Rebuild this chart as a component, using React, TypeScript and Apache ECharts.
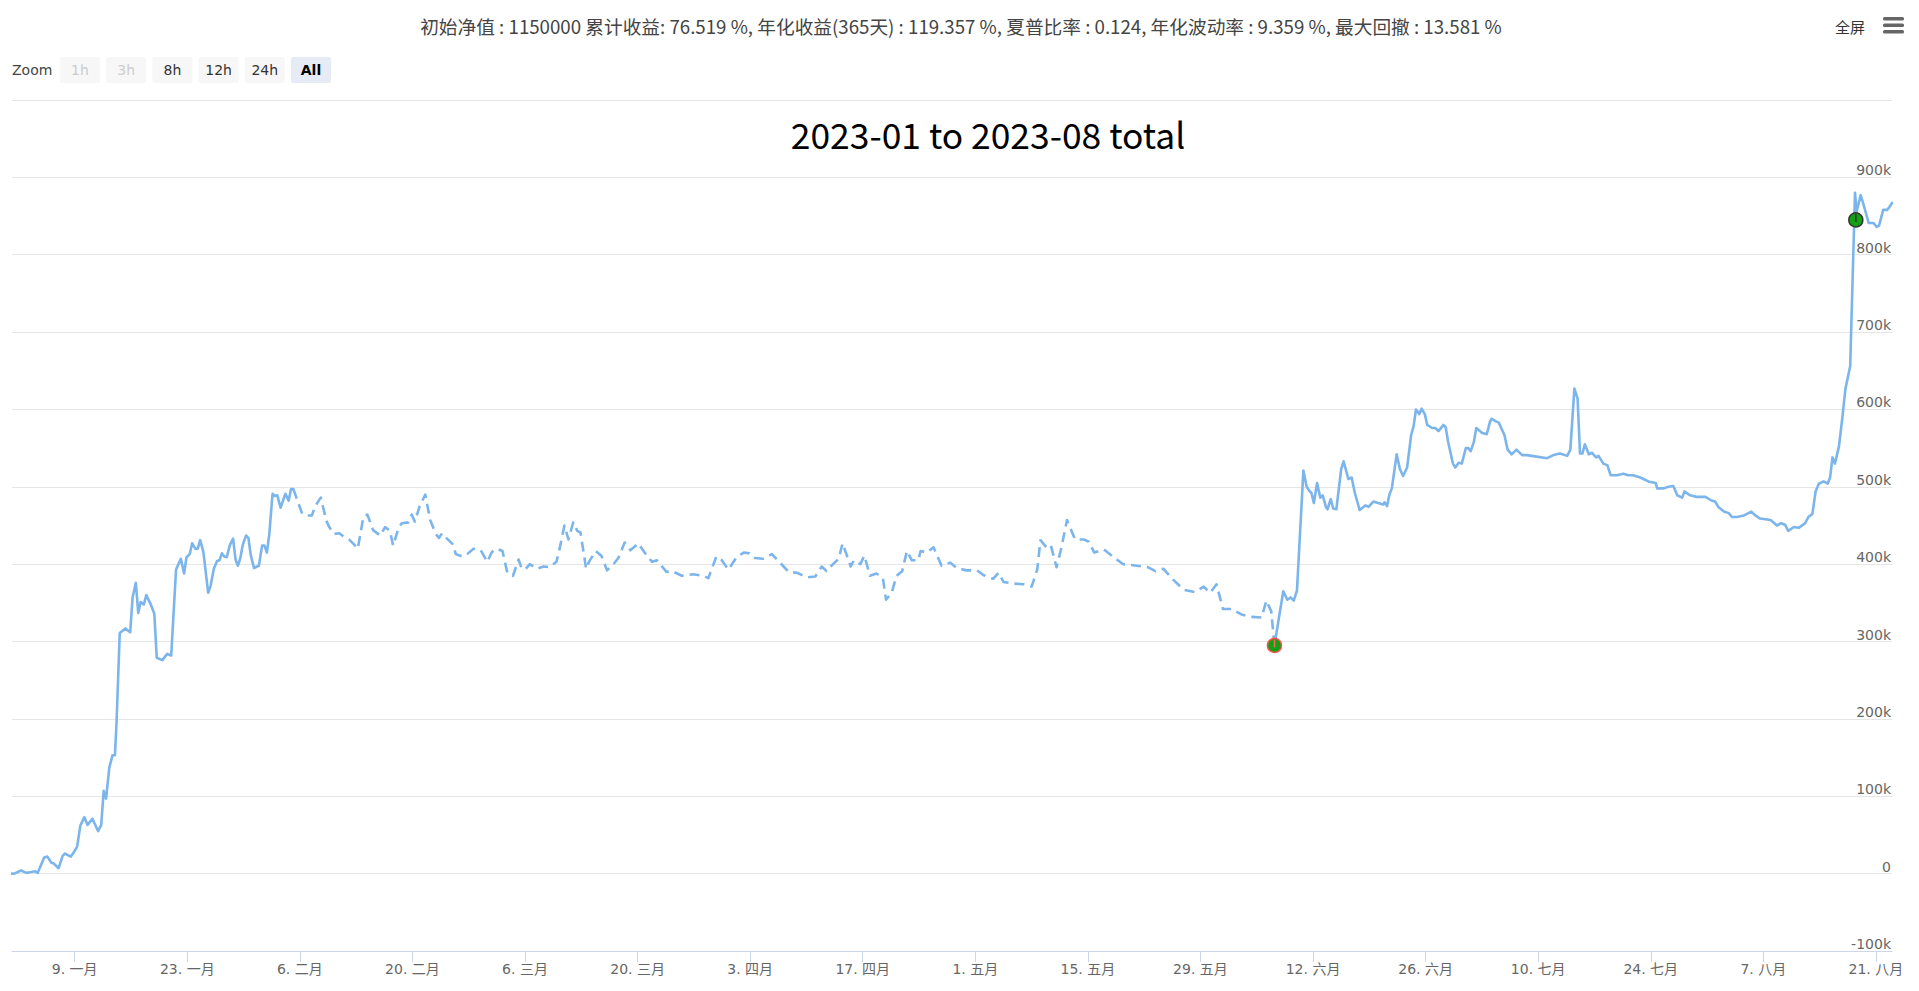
import React, { useEffect, useRef } from "react";
import * as echarts from "echarts";

// days since 2023-01-01 (UTC) and net value change in thousands
const days = [
  0.2, 0.5, 1.3, 2.0, 2.6, 3.1, 3.4, 3.6, 4.2, 4.6, 5.1, 5.4, 6.0, 6.5, 6.8, 7.5, 7.8, 8.3, 8.7, 9.2,
  9.6, 10.2, 10.9, 11.3, 11.6, 11.9, 12.3, 12.7, 13.0, 13.2, 13.6, 14.3, 14.9, 15.2, 15.6, 15.9, 16.2, 16.6, 16.9, 17.5,
  17.9, 18.2, 18.9, 19.5, 20.0, 20.6, 21.2, 21.6, 21.9, 22.3, 22.6, 23.0, 23.3, 23.6, 24.0, 24.6, 24.9, 25.3, 25.7, 26.0,
  26.3, 26.6, 26.9, 27.3, 27.7, 28.0, 28.3, 28.6, 28.9, 29.3, 29.6, 29.9, 30.3, 30.9, 31.3, 31.6, 31.9, 32.2, 32.6, 32.9,
  33.2, 33.6, 33.9, 34.2, 34.6, 34.9, 35.2,
  35.7, 36.3, 36.9, 37.5, 37.9, 38.6, 39.3, 39.6, 40.2, 40.9, 41.4, 42.1, 42.7, 43.2, 43.9, 44.4, 45.1, 46.0, 46.6, 47.2,
  47.6, 48.3, 48.7, 49.5, 49.9, 50.3, 50.9, 51.6, 52.2, 52.9, 53.3, 53.7, 54.3, 55.0, 55.4, 56.2, 56.8, 57.6, 58.5, 59.3,
  59.9, 60.5, 61.2, 61.8, 62.5, 63.2, 63.6, 64.1, 64.6, 65.5, 66.3, 67.1, 67.9, 68.2, 68.9, 69.4, 70.0, 70.5, 70.9, 71.6,
  72.0, 72.8, 73.5, 74.2, 75.0, 75.6, 76.4, 77.1, 78.1, 78.8, 79.8, 80.4, 81.6, 82.3, 83.5, 84.9, 86.2, 86.8, 87.8, 88.4,
  89.3, 90.3, 91.2, 91.9, 92.6, 93.6, 94.7, 95.7, 96.8, 97.8, 99.0, 100.1, 100.9, 101.5, 102.1, 103.0, 103.5, 104.2, 104.5, 104.9,
  105.7, 106.2, 106.9, 107.7, 108.5, 108.9, 109.6, 110.2, 110.9, 111.5, 112.1, 112.9, 113.2, 114.0, 114.8, 115.8, 116.9, 117.7, 118.9, 120.2,
  121.0, 122.2, 122.9, 123.5, 124.7, 126.0, 127.0, 127.7, 128.1, 128.9, 129.4, 130.1, 130.7, 131.4, 132.4, 133.5, 134.1, 134.8, 136.0, 137.2,
  138.4, 140.1, 141.5, 142.4, 143.4, 144.6, 145.9, 147.3, 148.4, 149.2, 150.0, 150.8, 151.9, 153.1, 154.2, 155.6, 156.2, 156.8, 157.2,
  158.3, 158.8, 159.2, 159.6, 160.0, 160.8, 161.2, 161.6, 161.8, 162.1, 162.5, 162.9, 163.2, 163.6, 163.8, 164.2, 164.5, 164.9, 165.5, 165.8,
  166.4, 166.8, 167.2, 167.8, 168.5, 168.9, 169.5, 170.1, 170.7, 170.9, 171.2, 171.5, 171.8, 172.4, 172.8, 173.2, 173.7, 174.2, 174.5, 174.8,
  175.2, 175.5, 175.9, 176.2, 176.8, 177.2, 177.6, 178.2, 178.5, 178.8, 179.4, 179.7, 180.1, 180.5, 181.0, 181.3, 181.6, 182.0, 182.3, 183.0,
  183.6, 184.0, 184.2, 184.7, 185.1, 185.4, 185.8, 186.2, 186.7, 187.3, 188.0, 188.6, 189.8, 191.1, 191.9, 192.7, 193.6, 194.0, 194.5, 194.9,
  195.2, 195.5, 195.8, 196.3, 196.7, 197.2, 197.5, 198.1, 198.6, 199.0, 199.8, 200.6, 201.2, 201.8, 202.7, 203.7, 204.6, 204.8, 205.6, 206.2,
  206.8, 207.3, 207.9, 208.2, 208.9, 209.7, 210.8, 211.6, 212.0, 212.4, 213.1, 213.7, 214.1, 214.7, 215.6, 216.5, 217.0, 217.6, 218.9, 219.7,
  220.2, 220.7, 221.1, 221.8, 222.4, 223.2, 223.6, 224.1, 224.5, 224.9, 225.5, 226.0, 226.3, 226.6, 226.9, 227.4, 227.8, 228.2, 228.8, 229.4,
  229.6, 229.8, 230.1, 230.4, 231.1, 231.7, 232.1, 232.4, 232.9, 233.4, 233.7, 234.0,
];

const values = [
  0, 0, 4, 1, 2, 3, 1, 6, 21, 22, 14, 13, 7, 23, 26, 22, 26, 35, 62, 73,
  63, 71, 55, 63, 107, 97, 137, 153, 153, 195, 311, 317, 312, 357, 376, 337, 351, 348, 360, 347,
  336, 279, 276, 284, 282, 393, 407, 388, 409, 413, 427, 420, 420, 431, 416, 363, 372, 394, 404, 405,
  414, 410, 409, 425, 433, 406, 398, 408, 425, 437, 434, 411, 395, 398, 424, 424, 415, 439, 491, 488,
  489, 473, 482, 491, 482, 497, 497,
  482, 465, 463, 463, 475, 486, 456, 449, 439, 440, 436, 432, 426, 420, 461, 464, 444, 437, 448, 443,
  424, 448, 453, 454, 464, 455, 475, 490, 457, 439, 434, 440, 433, 426, 413, 410, 413, 420, 418, 403,
  416, 420, 417, 389, 385, 406, 394, 394, 400, 394, 397, 396, 403, 415, 450, 432, 454, 443, 441, 394,
  404, 417, 411, 392, 400, 408, 428, 418, 427, 416, 403, 405, 390, 391, 385, 387, 385, 382, 410, 406,
  393, 409, 415, 414, 408, 407, 413, 402, 390, 389, 383, 384, 397, 391, 398, 407, 427, 406, 397, 405,
  400, 411, 385, 388, 382, 354, 363, 385, 391, 417, 405, 405, 417, 415, 422, 398, 402, 395, 392, 392,
  386, 381, 389, 377, 375, 374, 371, 393, 431, 421, 424, 396, 421, 457, 432, 432, 429, 415, 419, 409,
  400, 398, 396, 391, 394, 380, 367, 364, 371, 363, 374, 342, 342, 335, 332, 331, 353, 339, 295,
  365, 354, 357, 353, 366, 521, 500, 494, 492, 479, 505, 486, 489, 474, 471, 484, 472, 471, 523, 533,
  510, 512, 492, 470, 476, 474, 481, 479, 477, 480, 475, 490, 498, 542, 523, 514, 525, 567, 578, 600,
  594, 601, 594, 580, 576, 576, 572, 580, 577, 558, 530, 525, 531, 530, 550, 550, 546, 558, 576, 570,
  568, 584, 588, 585, 583, 576, 567, 548, 542, 548, 541, 541, 539, 537, 541, 543, 540, 548, 627, 614,
  543, 543, 555, 542, 544, 538, 540, 530, 528, 515, 515, 517, 515, 515, 512, 507, 505, 498, 498, 500,
  501, 489, 486, 494, 489, 487, 487, 482, 481, 474, 468, 466, 461, 461, 463, 468, 463, 459, 457, 450,
  453, 451, 443, 448, 447, 453, 461, 465, 494, 504, 507, 504, 512, 538, 530, 552, 587, 626, 656, 880,
  856, 864, 877, 867, 841, 841, 836, 838, 858, 858, 862, 867,
];

// drawdown period (dashed) between peak and trough
const drawdownStartDay = 35.2;
const drawdownEndDay = 157.2;

// markers: trough and latest high
const troughMarker = [157.2, 295];
const peakMarker = [229.5, 845];

const tickDays = [8, 22, 36, 50, 64, 78, 92, 106, 120, 134, 148, 162, 176, 190, 204, 218, 232];
const tickLabels = [
  "9. 一月", "23. 一月", "6. 二月", "20. 二月", "6. 三月", "20. 三月", "3. 四月", "17. 四月",
  "1. 五月", "15. 五月", "29. 五月", "12. 六月", "26. 六月", "10. 七月", "24. 七月", "7. 八月", "21. 八月",
];

const yMin = -100;
const yMax = 1000;
const yStep = 100;

const headerText =
  "初始净值 : 1150000 累计收益: 76.519 %, 年化收益(365天) : 119.357 %, 夏普比率 : 0.124, 年化波动率 : 9.359 %, 最大回撤 : 13.581 %";
const titleText = "2023-01 to 2023-08 total";
const zoomButtons = ["1h", "3h", "8h", "12h", "24h", "All"];
const disabledButtons = ["1h", "3h"];
const selectedButton = "All";

const LINE = "#7cb5ec";
const AXIS_FONT = "'DejaVu Sans', 'Noto Sans CJK SC', sans-serif";
const CJK_FONT = "'Noto Sans CJK SC', 'Noto Sans', sans-serif";

export default function App() {
  const ref = useRef<HTMLDivElement>(null);

  useEffect(() => {
    if (!ref.current) return;
    const chart = echarts.init(ref.current, null, { renderer: "svg" });
    const pts = days.map((d, i) => [d, values[i]]);
    const seg = (a: number, b: number) => pts.filter((p) => p[0] >= a && p[0] <= b);

    const lineBase = {
      type: "line",
      showSymbol: false,
      symbol: "none",
      silent: true,
      z: 3,
    };

    const buttonEls: any[] = [];
    zoomButtons.forEach((b, i) => {
      const x = 60 + i * 46.2;
      const disabled = disabledButtons.includes(b);
      const selected = b === selectedButton;
      buttonEls.push({
        type: "rect",
        shape: { x, y: 57, width: 40, height: 26, r: 2 },
        style: { fill: selected ? "#e6ebf5" : "#f7f7f7" },
      });
      buttonEls.push({
        type: "text",
        x: x + 20,
        y: 70,
        style: {
          text: b,
          fontSize: 14,
          fontFamily: AXIS_FONT,
          fontWeight: selected ? "bold" : "normal",
          fill: disabled ? "#cccccc" : selected ? "#000000" : "#333333",
          align: "center",
          verticalAlign: "middle",
        },
      });
    });

    chart.setOption({
      animation: false,
      backgroundColor: "#ffffff",
      grid: { left: 12, right: 27, top: 100, bottom: 40, containLabel: false, outerBoundsMode: "none" },
      xAxis: {
        type: "value",
        min: 0.2,
        max: 234,
        splitLine: { show: false },
        axisLine: { show: true, onZero: false, lineStyle: { color: "#ccd6eb", width: 1 } },
        axisTick: { show: true, customValues: tickDays, length: 11, lineStyle: { color: "#ccd6eb" } },
        axisLabel: {
          customValues: tickDays,
          formatter: (v: number) => {
            const i = tickDays.indexOf(Math.round(v));
            return i >= 0 ? tickLabels[i] : "";
          },
          color: "#666666",
          fontSize: 14,
          fontFamily: AXIS_FONT,
          margin: 11,
        },
      },
      yAxis: {
        type: "value",
        position: "right",
        min: yMin,
        max: yMax,
        interval: yStep,
        axisLine: { show: false },
        axisTick: { show: false },
        splitLine: { show: true, lineStyle: { color: "#e6e6e6", width: 1 } },
        axisLabel: {
          inside: true,
          showMaxLabel: false,
          align: "right",
          verticalAlign: "bottom",
          margin: 1,
          padding: [0, 0, 0, 0],
          color: "#666666",
          fontSize: 14,
          fontFamily: AXIS_FONT,
          formatter: (v: number) => (v === 0 ? "0" : `${v}k`),
        },
      },
      series: [
        { ...lineBase, data: seg(-1, drawdownStartDay), lineStyle: { color: LINE, width: 2.6, join: "round", cap: "round" } },
        {
          ...lineBase,
          data: seg(drawdownStartDay, drawdownEndDay),
          lineStyle: { color: LINE, width: 2.6, type: [10, 6], join: "round" },
        },
        { ...lineBase, data: seg(drawdownEndDay, 999), lineStyle: { color: LINE, width: 2.6, join: "round", cap: "round" } },
        {
          type: "scatter",
          silent: true,
          z: 5,
          data: [troughMarker],
          symbol: "circle",
          symbolSize: 14,
          itemStyle: { color: "#13a113", borderColor: "#ff5050", borderWidth: 1.5, opacity: 1 },
        },
        {
          type: "scatter",
          silent: true,
          z: 5,
          data: [peakMarker],
          symbol: "circle",
          symbolSize: 14,
          itemStyle: { color: "#13a113", borderColor: "#333333", borderWidth: 1.5, opacity: 1 },
        },
        {
          type: "scatter",
          silent: true,
          z: 6,
          data: [troughMarker],
          symbol: "rect",
          symbolSize: [1.6, 8],
          symbolOffset: [0, -2],
          itemStyle: { color: "#ff6060", opacity: 1 },
        },
        {
          type: "scatter",
          silent: true,
          z: 6,
          data: [peakMarker],
          symbol: "rect",
          symbolSize: [1.6, 8],
          symbolOffset: [0, -2],
          itemStyle: { color: "#333333", opacity: 1 },
        },
      ],
      graphic: [
        {
          type: "text",
          x: 961,
          y: 25,
          style: {
            text: headerText,
            fontSize: 18.7,
            fontFamily: CJK_FONT,
            fill: "#444444",
            align: "center",
            verticalAlign: "middle",
          },
        },
        {
          type: "text",
          x: 1850,
          y: 26,
          style: { text: "全屏", fontSize: 15, fontFamily: CJK_FONT, fill: "#333333", align: "center", verticalAlign: "middle" },
        },
        { type: "rect", shape: { x: 1883, y: 17, width: 21, height: 3.5, r: 1.5 }, style: { fill: "#666666" } },
        { type: "rect", shape: { x: 1883, y: 23.5, width: 21, height: 3.5, r: 1.5 }, style: { fill: "#666666" } },
        { type: "rect", shape: { x: 1883, y: 30, width: 21, height: 3.5, r: 1.5 }, style: { fill: "#666666" } },
        {
          type: "text",
          x: 12,
          y: 70,
          style: { text: "Zoom", fontSize: 14, fontFamily: AXIS_FONT, fill: "#444444", align: "left", verticalAlign: "middle" },
        },
        ...buttonEls,
        {
          type: "text",
          x: 988,
          y: 133.5,
          style: {
            text: titleText,
            fontSize: 35.4,
            fontFamily: CJK_FONT,
            fill: "#000000",
            align: "center",
            verticalAlign: "middle",
          },
        },
      ],
    });
    return () => chart.dispose();
  }, []);

  return (
    <div
      ref={ref}
      style={{ position: "absolute", left: 0, top: 0, width: 1919, height: 991, background: "#fff" }}
    />
  );
}
